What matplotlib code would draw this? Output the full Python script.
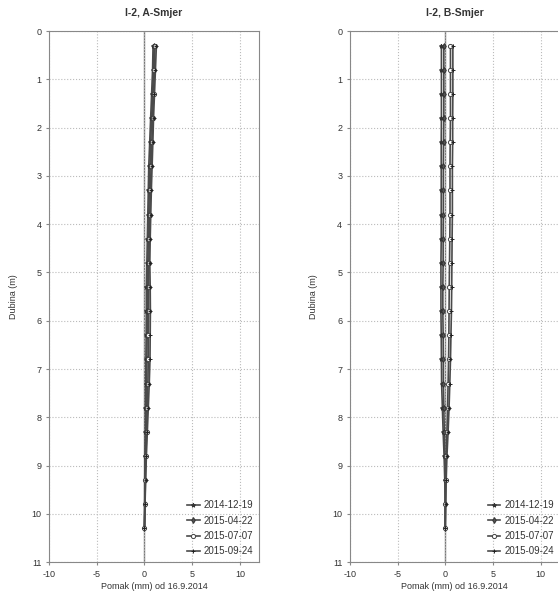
import numpy as np
import matplotlib
matplotlib.use('Agg')
import matplotlib.pyplot as plt

# dubina mjerenja (m)
dubina = [0.3, 0.8, 1.3, 1.8, 2.3, 2.8, 3.3, 3.8, 4.3, 4.8, 5.3,
          5.8, 6.3, 6.8, 7.3, 7.8, 8.3, 8.8, 9.3, 9.8, 10.3]
datumi = ['2014-12-19', '2015-04-22', '2015-07-07', '2015-09-24']

# A-smjer, pomak (mm)
a_1 = [0.9, 0.85, 0.75, 0.65, 0.55, 0.45, 0.4, 0.35, 0.3, 0.25, 0.2,
       0.2, 0.18, 0.15, 0.12, 0.1, 0.08, 0.05, 0.03, 0.02, 0.0]
a_2 = [1.0, 0.95, 0.85, 0.75, 0.65, 0.58, 0.5, 0.45, 0.4, 0.35, 0.32,
       0.3, 0.28, 0.25, 0.22, 0.18, 0.14, 0.1, 0.06, 0.03, 0.0]
a_3 = [1.1, 1.05, 0.95, 0.85, 0.78, 0.7, 0.62, 0.56, 0.5, 0.46, 0.45,
       0.44, 0.42, 0.4, 0.36, 0.3, 0.22, 0.15, 0.1, 0.05, 0.0]
a_4 = [1.25, 1.15, 1.05, 0.95, 0.88, 0.8, 0.72, 0.66, 0.6, 0.56, 0.6,
       0.62, 0.6, 0.58, 0.5, 0.4, 0.3, 0.2, 0.12, 0.06, 0.0]

# B-smjer, pomak (mm)
b_1 = [-0.4, -0.4, -0.4, -0.4, -0.42, -0.42, -0.42, -0.42, -0.42, -0.45, -0.45,
       -0.45, -0.42, -0.4, -0.38, -0.3, -0.22, -0.12, -0.05, 0.0, 0.0]
b_2 = [-0.15, -0.15, -0.15, -0.15, -0.18, -0.2, -0.2, -0.2, -0.22, -0.22, -0.25,
       -0.25, -0.22, -0.2, -0.2, -0.15, -0.1, -0.05, 0.0, 0.0, 0.0]
b_3 = [0.55, 0.55, 0.55, 0.55, 0.52, 0.5, 0.5, 0.5, 0.48, 0.45, 0.42,
       0.4, 0.38, 0.35, 0.3, 0.25, 0.18, 0.1, 0.05, 0.02, 0.0]
b_4 = [0.8, 0.8, 0.8, 0.78, 0.78, 0.75, 0.75, 0.75, 0.72, 0.7, 0.68,
       0.65, 0.6, 0.55, 0.48, 0.4, 0.3, 0.18, 0.1, 0.05, 0.0]

xticks = [-10, -5, 0, 5, 10]
yticks = list(range(0, 12))

plt.rcParams['font.family'] = ['Liberation Sans', 'DejaVu Sans']
plt.rcParams['axes.unicode_minus'] = False

fig = plt.figure(figsize=(5.58, 5.98), dpi=100)
ax_a = fig.add_axes([0.088, 0.060, 0.376, 0.888])
ax_b = fig.add_axes([0.627, 0.060, 0.376, 0.888])

stilovi = [
    dict(marker='*', mfc='#333333', mec='#333333'),
    dict(marker='d', mfc='#555555', mec='#333333'),
    dict(marker='o', mfc='white', mec='#444444'),
    dict(marker='+', mfc='#333333', mec='#222222'),
]

def crtaj(ax, serije, naslov, ylabel=True):
    for vals, lab, st in zip(serije, datumi, stilovi):
        ax.plot(vals, dubina, color='#4a4a4a', lw=1.2, ms=3, mew=0.7,
                label=lab, **st)
    ax.axvline(0, color='#777777', lw=1.0, zorder=0)
    ax.set_xlim(-10, 12)
    ax.set_ylim(11, 0)
    ax.set_xticks(xticks)
    ax.set_yticks(yticks)
    ax.grid(True, ls=':', color='#bbbbbb', lw=0.8)
    ax.tick_params(labelsize=6.5, length=2, color='#888888', labelcolor='#333333')
    for s in ax.spines.values():
        s.set_color('#888888')
    ax.set_title(naslov, fontsize=7.5, fontweight='bold', color='#333333', pad=11)
    ax.set_xlabel('Pomak (mm) od 16.9.2014', fontsize=6.5, color='#333333', labelpad=2)
    if ylabel:
        ax.set_ylabel('Dubina (m)', fontsize=6.5, color='#333333', labelpad=10)
    ax.legend(loc='lower right', frameon=False, fontsize=7, handlelength=1.3,
              handletextpad=0.4, labelspacing=0.55, borderaxespad=0.2,
              labelcolor='#333333')

crtaj(ax_a, [a_1, a_2, a_3, a_4], 'I-2, A-Smjer')
crtaj(ax_b, [b_1, b_2, b_3, b_4], 'I-2, B-Smjer')

fig.savefig('out.png', dpi=100)
